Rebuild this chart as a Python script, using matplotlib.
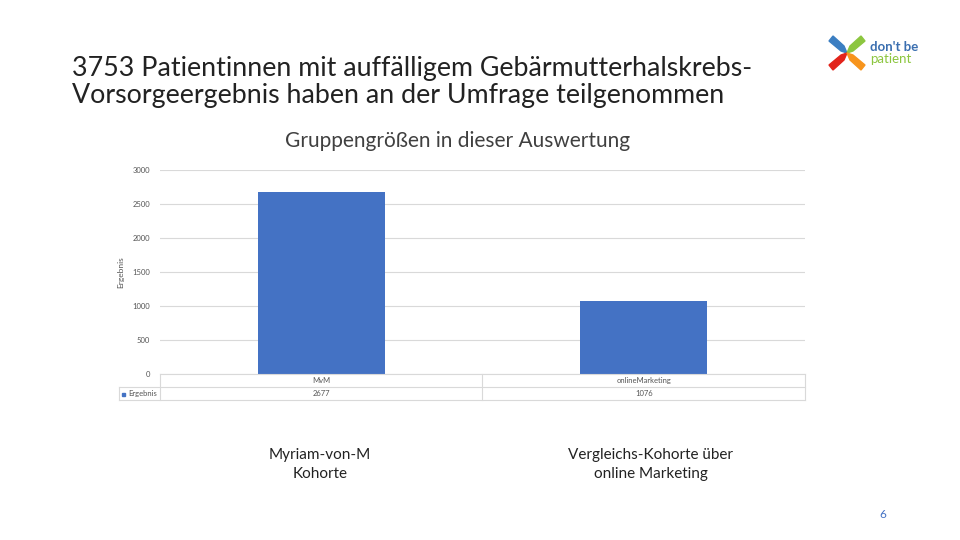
import matplotlib
matplotlib.use("Agg")
import matplotlib.pyplot as plt
from matplotlib.patches import Polygon

plt.rcParams['font.family'] = ['Lato', 'DejaVu Sans']

categories = ["MvM", "onlineMarketing"]
values = [2677, 1076]
series_name = "Ergebnis"
yticks = [0, 500, 1000, 1500, 2000, 2500, 3000]
group_labels = ["Myriam-von-M\nKohorte", "Vergleichs-Kohorte über\nonline Marketing"]

W, H = 960, 540
fig = plt.figure(figsize=(9.6, 5.4), dpi=100)

def fx(px):
    return px / W

def fy(py):
    return 1 - py / H

# titles
fig.text(fx(72), fy(82), "3753 Patientinnen mit auffälligem Gebärmutterhalskrebs-\nVorsorgeergebnis haben an der Umfrage teilgenommen",
         fontsize=19.3, va="center", ha="left", color="#222222", linespacing=1.12)
fig.text(fx(458), fy(141), "Gruppengrößen in dieser Auswertung", fontsize=15,
         ha="center", va="center", color="#404040")

# chart
left, right, top, bottom = 160, 805, 170, 374
ax = fig.add_axes([fx(left), fy(bottom), (right - left) / W, (bottom - top) / H])
ax.bar(range(len(values)), values, width=0.395, color="#4472C4", zorder=3)
ax.set_xlim(-0.5, len(values) - 0.5)
ax.set_ylim(0, 3000)
ax.set_yticks(yticks)
ax.set_yticklabels([str(t) for t in yticks], fontsize=5.5, color="#555555")
ax.set_xticks([])
ax.yaxis.grid(True, color="#d9d9d9", linewidth=0.8, zorder=0)
for s in ax.spines.values():
    s.set_visible(False)
ax.tick_params(axis="y", length=0, pad=7)
ax.set_ylabel(series_name, fontsize=6, color="#555555", labelpad=6)

# data table under the axis
line_kw = dict(color="#d9d9d9", linewidth=0.8)
fig.add_artist(plt.Line2D([fx(left), fx(right)], [fy(374), fy(374)], **line_kw))
fig.add_artist(plt.Line2D([fx(119), fx(right)], [fy(387), fy(387)], **line_kw))
fig.add_artist(plt.Line2D([fx(119), fx(right)], [fy(400), fy(400)], **line_kw))
fig.add_artist(plt.Line2D([fx(119), fx(119)], [fy(387), fy(400)], **line_kw))
for xv in [left, (left + right) / 2, right]:
    fig.add_artist(plt.Line2D([fx(xv), fx(xv)], [fy(374), fy(400)], **line_kw))
ncat = len(categories)
for i, (c, v) in enumerate(zip(categories, values)):
    cx = left + (right - left) * (i + 0.5) / ncat
    fig.text(fx(cx), fy(380.5), c, fontsize=5.5, ha="center", va="center", color="#555555")
    fig.text(fx(cx), fy(393.5), str(v), fontsize=5.5, ha="center", va="center", color="#555555")
fig.patches.append(plt.Rectangle((fx(122), fy(395.5)), 3 / W, 3 / H, color="#4472C4",
                                 transform=fig.transFigure, figure=fig))
fig.text(fx(128), fy(393.5), series_name, fontsize=5.5, ha="left", va="center", color="#555555")

# group labels
for i, g in enumerate(group_labels):
    cx = [320, 651][i]
    fig.text(fx(cx), fy(464.5), g, fontsize=11, ha="center", va="center", color="#222222",
             linespacing=1.45)

# page number
fig.text(fx(883), fy(514), "6", fontsize=8.5, ha="center", va="center", color="#4472C4")

# logo
cx0, cy0 = 847, 53
hands = [("#3b7ec2", -1, -1), ("#8cc63f", 1, -1), ("#e2231a", -1, 1), ("#f7941d", 1, 1)]
for col, sx, sy in hands:
    pts = [(cx0, cy0), (cx0 + sx * 6, cy0 + sy * 2), (cx0 + sx * 18, cy0 + sy * 12),
           (cx0 + sx * 14, cy0 + sy * 17), (cx0 + sx * 3, cy0 + sy * 7)]
    fig.patches.append(Polygon([(fx(px), fy(py)) for px, py in pts], closed=True,
                               color=col, transform=fig.transFigure, figure=fig))
fig.text(fx(870), fy(47), "don't be", fontsize=9.5, fontweight="bold", color="#3b6fb0",
         ha="left", va="center")
fig.text(fx(870), fy(59), "patient", fontsize=9.5, color="#8cc63f", ha="left", va="center")

fig.savefig("out.png", dpi=100)
